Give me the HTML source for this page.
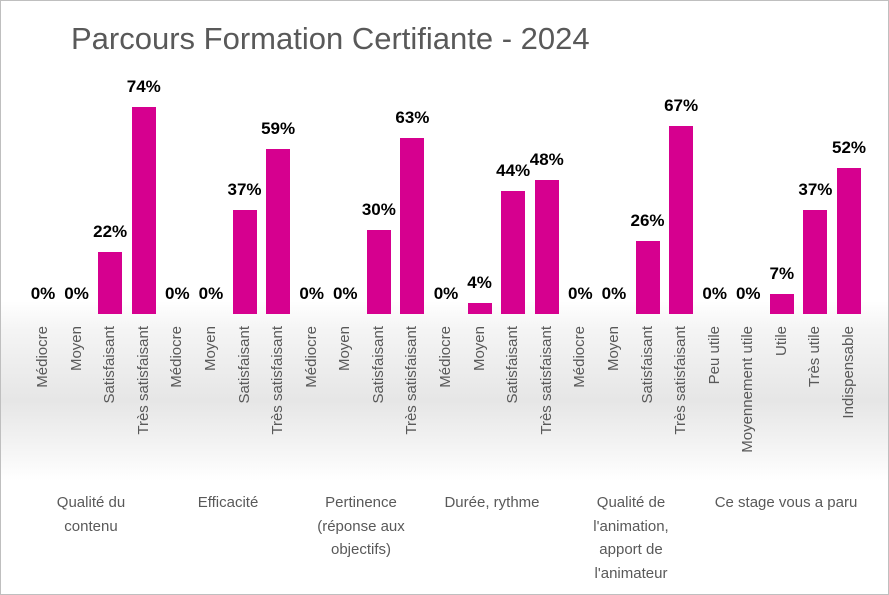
<!DOCTYPE html>
<html><head><meta charset="utf-8"><style>
body{margin:0;width:889px;height:595px;overflow:hidden;background:#fff;font-family:"Liberation Sans",sans-serif}
#c{position:absolute;left:0;top:0;width:887px;height:593px;border:1px solid #bfbfbf;
background:linear-gradient(#ffffff 0px,#ffffff 300px,#f4f4f4 330px,#e6e6e6 400px,#f2f2f2 440px,#ffffff 480px)}
.t{position:absolute;left:70px;top:20px;font-size:31px;color:#595959}
.b{position:absolute;width:24px;background:#d6008f}
.v{position:absolute;width:60px;text-align:center;font-weight:bold;font-size:17px;color:#000}
.l{position:absolute;font-size:15px;color:#595959;white-space:nowrap;transform-origin:0 0}
.g{position:absolute;width:170px;text-align:center;font-size:15px;color:#595959;line-height:23.5px;top:490px}
</style></head><body><div id="c">
<div class="t">Parcours Formation Certifiante - 2024</div>
<div id="a"></div>
</div>
<script>
(function(){
var q=["Médiocre","Moyen","Satisfaisant","Très satisfaisant"];
var vals=[0,0,22,74,0,0,37,59,0,0,30,63,0,4,44,48,0,0,26,67,0,0,7,37,52];
var labs=q.concat(q,q,q,q,["Peu utile","Moyennement utile","Utile","Très utile","Indispensable"]);
var n=vals.length, x0=42, step=(848-42)/(n-1);
var h="";
for(var i=0;i<n;i++){var cx=x0+step*i,bh=vals[i]*2.8,ty=313-bh;
if(bh>0)h+='<div class="b" style="left:'+(cx-12)+'px;top:'+ty+'px;height:'+bh+'px"></div>';
h+='<div class="v" style="left:'+(cx-30)+'px;top:'+(ty-30)+'px">'+vals[i]+'%</div>';
h+='<div class="l" style="left:'+(cx-9)+'px;top:325px;transform:rotate(-90deg) translateX(-100%)">'+labs[i]+'</div>';}
var gs=[["Qualité du","contenu"],["Efficacité"],["Pertinence","(réponse aux","objectifs)"],["Durée, rythme"],["Qualité de","l'animation,","apport de","l'animateur"],["Ce stage vous a paru"]];
var cs=[90,227,360,491,630,785];
for(var g=0;g<6;g++){h+='<div class="g" style="left:'+(cs[g]-85)+'px">'+gs[g].join('<br>')+'</div>';}
document.getElementById('a').innerHTML=h;
})();
</script>
</body></html>
